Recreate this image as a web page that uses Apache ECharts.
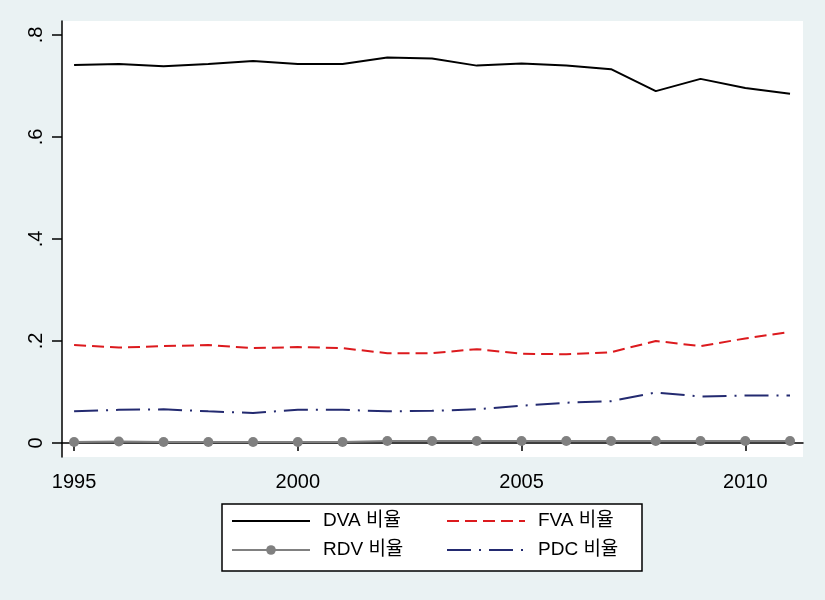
<!DOCTYPE html>
<html>
<head>
<meta charset="utf-8">
<script src="https://cdn.jsdelivr.net/npm/echarts@6/dist/echarts.min.js"></script>
<style>
  html, body { margin: 0; padding: 0; background: #EAF2F3; }
  #m1 { width: 825px; height: 600px; }
</style>
</head>
<body>
<div id="m1"></div>
<script>
// 데이터
var years = [1995, 1996, 1997, 1998, 1999, 2000, 2001, 2002, 2003, 2004, 2005, 2006, 2007, 2008, 2009, 2010, 2011];
var dva = [0.741, 0.743, 0.739, 0.743, 0.749, 0.743, 0.743, 0.756, 0.754, 0.740, 0.744, 0.740, 0.733, 0.690, 0.714, 0.696, 0.685];
var fva = [0.192, 0.187, 0.190, 0.192, 0.186, 0.188, 0.186, 0.176, 0.176, 0.184, 0.175, 0.174, 0.178, 0.200, 0.190, 0.205, 0.218];
var rdv = [0.002, 0.003, 0.002, 0.002, 0.002, 0.002, 0.002, 0.004, 0.004, 0.004, 0.004, 0.004, 0.004, 0.004, 0.004, 0.004, 0.004];
var pdc = [0.062, 0.065, 0.066, 0.062, 0.059, 0.065, 0.065, 0.062, 0.063, 0.066, 0.073, 0.079, 0.082, 0.099, 0.091, 0.093, 0.093];
var xTicks = [1995, 2000, 2005, 2010];
var yTicks = [0, 0.2, 0.4, 0.6, 0.8];
var names = ['DVA 비율', 'FVA 비율', 'RDV 비율', 'PDC 비율'];

function pairs(vals) {
    return years.map(function (y, i) { return [y, vals[i]]; });
}

var font = 'Liberation Sans, Arial, Noto Sans CJK KR';
var myChart = echarts.init(document.getElementById('m1'));

// 범례 (심볼 없는 선은 점을 숨김)
var legendText = { fontSize: 19, color: '#000', lineHeight: 20, padding: [0, 0, 0, 8], fontFamily: font };
var noDot = { opacity: 0 };

var option = {
    backgroundColor: '#EAF2F3',
    animation: false,
    textStyle: { fontFamily: font },
    grid: {
        left: 62, right: 22, top: 21, bottom: 143,
        show: true, backgroundColor: '#ffffff', borderWidth: 0
    },
    xAxis: {
        type: 'value',
        min: 1994.73, max: 2011.29,
        axisLine: { show: true, lineStyle: { color: '#000', width: 1.5 } },
        axisTick: { show: true, length: 8, customValues: xTicks, lineStyle: { color: '#000', width: 1.5 } },
        axisLabel: {
            customValues: xTicks, fontSize: 20, color: '#000', margin: 15, fontFamily: font,
            formatter: function (v) { return String(v); }
        },
        splitLine: { show: false }
    },
    yAxis: {
        type: 'value',
        min: -0.0275, max: 0.8275,
        axisLine: { show: true, lineStyle: { color: '#000', width: 1.5 } },
        axisTick: { show: true, length: 10, customValues: yTicks, lineStyle: { color: '#000', width: 1.5 } },
        axisLabel: {
            customValues: yTicks, fontSize: 20, color: '#000', rotate: 90, margin: 16, fontFamily: font,
            formatter: function (v) {
                if (Math.abs(v) < 1e-9) return '0';
                return '.' + Math.round(v * 10);
            }
        },
        splitLine: { show: false }
    },
    legend: [{
        data: [{ name: names[0], itemStyle: noDot }, { name: names[2] }],
        orient: 'vertical',
        left: 231, top: 511,
        padding: 0,
        itemWidth: 78, itemHeight: 12, itemGap: 9,
        textStyle: legendText
    }, {
        data: [{ name: names[1], itemStyle: noDot }, { name: names[3], itemStyle: noDot }],
        orient: 'vertical',
        left: 446, top: 511,
        padding: 0,
        itemWidth: 78, itemHeight: 12, itemGap: 9,
        textStyle: legendText
    }],
    graphic: [{
        type: 'rect',
        z: -1,
        shape: { x: 222, y: 504, width: 420, height: 67 },
        style: { fill: '#ffffff', stroke: '#000', lineWidth: 1.5 }
    }],
    series: [{
        name: names[0], type: 'line', data: pairs(dva),
        showSymbol: false, symbol: 'none',
        lineStyle: { color: '#000', width: 2 }, itemStyle: { color: '#000' }
    }, {
        name: names[1], type: 'line', data: pairs(fva),
        showSymbol: false, symbol: 'none',
        lineStyle: { color: '#dc1a1e', width: 2, type: [12, 6] }, itemStyle: { color: '#dc1a1e' }
    }, {
        name: names[2], type: 'line', data: pairs(rdv),
        symbol: 'circle', symbolSize: 10,
        lineStyle: { color: '#808080', width: 2 }, itemStyle: { color: '#808080' }
    }, {
        name: names[3], type: 'line', data: pairs(pdc),
        showSymbol: false, symbol: 'none',
        lineStyle: { color: '#232a70', width: 2, type: [24, 8, 2, 8] }, itemStyle: { color: '#232a70' }
    }]
};

myChart.setOption(option);
</script>
</body>
</html>
